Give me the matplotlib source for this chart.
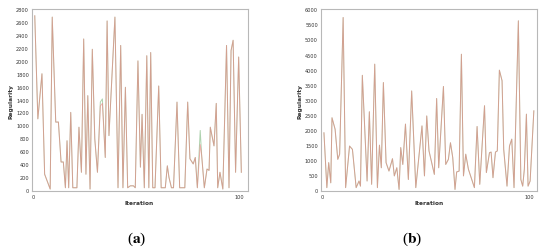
import matplotlib
matplotlib.use("Agg")
import matplotlib.pyplot as plt

# ---- Panel (a) data ----
iter_a = [0.5, 2, 4, 5.3, 8, 9, 10.7, 12, 13.3, 14.4, 15.4, 16.2, 17, 18, 19, 21, 22, 23.2,
          24.3, 25.4, 26.3, 27.4, 28.5, 29.7, 31, 32.4, 33.4, 34.8, 35.7, 36.6, 39.5, 41,
          42.3, 43.4, 44.6, 45.7, 47, 48.5, 49.4, 50.7, 51.9, 52.7, 53.8, 55, 56, 56.9,
          57.9, 59, 60.8, 62, 64, 65, 65.8, 67, 68, 69.7, 71, 73.5, 74.9, 76, 77.6, 78.6,
          79.6, 81, 81.7, 83, 84.3, 85.3, 85.9, 87.7, 88.8, 89.5, 90.6, 92, 93.8, 95, 96,
          97, 98.2, 99.7, 101]
red_a = [2700, 1100, 1800, 240, 10, 2680, 1050, 1050, 430, 430, 30, 760, 30, 1200, 30, 30,
         970, 270, 2340, 240, 1460, 10, 2180, 790, 270, 1300, 1340, 500, 2620, 840, 2680, 30,
         2240, 30, 1590, 30, 60, 60, 30, 2000, 350, 1170, 30, 2080, 30, 2130, 30, 30, 1610,
         30, 30, 370, 190, 30, 30, 1360, 30, 30, 1360, 480, 400, 500, 30, 700, 530, 30, 320,
         300, 970, 680, 1340, 30, 270, 10, 2240, 30, 2160, 2320, 270, 2060, 270]
green_a = [2700, 1100, 1800, 240, 10, 2680, 1050, 1050, 430, 430, 30, 760, 30, 1200, 30, 30,
           970, 270, 2340, 240, 1460, 10, 2180, 790, 270, 1360, 1410, 500, 2620, 840, 2680, 30,
           2240, 30, 1590, 30, 60, 60, 30, 2000, 350, 1170, 30, 2080, 30, 2130, 30, 30, 1610,
           30, 30, 370, 190, 30, 30, 1360, 30, 30, 1360, 480, 400, 500, 30, 920, 530, 30, 320,
           300, 970, 680, 1340, 30, 270, 10, 2240, 30, 2160, 2320, 270, 2060, 270]

# ---- Panel (b) data ----
iter_b = [0.6, 2, 2.9, 3.9, 4.5, 6, 7.3, 8.2, 9.9, 11.1, 13, 14.4, 16.2, 17.6, 18.3, 19.2,
          21.5, 22.6, 23.7, 25.2, 26.5, 27.5, 28.4, 29.4, 30.7, 32.1, 33.8, 34.7, 35.9, 37,
          37.8, 38.8, 40.1, 41.5, 43.1, 45.1, 48.1, 49.3, 50.4, 51.5, 54.1, 55.2, 56.2, 58.5,
          59.6, 60.9, 61.9, 63, 64.1, 64.9, 66.1, 67.2, 68.2, 69.3, 70.6, 73.5, 74.8, 76.1,
          78.4, 79.3, 80.8, 81.6, 82.5, 83.7, 84.6, 85.6, 86.9, 87.7, 89.3, 90.5, 91.6, 92.7,
          94.8, 96, 96.9, 97.7, 98.7, 99.5, 100.5, 102.3]
red_b = [1900, 80, 910, 240, 2400, 2020, 1020, 1190, 5730, 80, 1460, 1350, 80, 300, 130,
         3810, 300, 2600, 190, 4180, 80, 1490, 740, 3570, 910, 630, 1040, 470, 740, 20, 1410,
         850, 2190, 350, 3290, 80, 2130, 470, 2460, 1300, 520, 3040, 740, 3440, 850, 1020,
         1570, 1080, 20, 600, 630, 4510, 470, 1190, 690, 80, 2110, 190, 2800, 580, 1240, 1260,
         410, 1260, 1300, 3980, 3630, 1350, 130, 1460, 1690, 80, 5620, 350, 130, 690, 2520,
         130, 300, 2630]
green_b = list(red_b)

# ---- styling ----
RED = "#f07878"
GREEN = "#78b478"
FRAME = "#b8b8b8"

fig = plt.figure(figsize=(5.5, 2.53), dpi=100)
fig.patch.set_facecolor("white")

def style(ax, xs, g, r, ymax, ystep, ymin):
    ax.plot(xs, g, color=GREEN, lw=0.7, alpha=0.6)
    ax.plot(xs, r, color=RED, lw=0.7, alpha=0.55)
    ax.set_xlim(-1, 104)
    ax.set_ylim(ymin, ymax)
    ax.set_xticks([0, 100])
    ax.set_yticks(list(range(0, ymax + 1, ystep)))
    ax.tick_params(length=0, labelsize=3.6, pad=2, colors="#333333")
    for s in ax.spines.values():
        s.set_color(FRAME)
        s.set_linewidth(0.8)
    ax.set_xlabel("Iteration", fontsize=4.2, fontweight="bold", labelpad=1, color="#333333")
    ax.set_ylabel("Regularity", fontsize=4.2, fontweight="bold", labelpad=2, color="#333333")

ax1 = fig.add_axes([0.0576, 0.241, 0.3924, 0.718])
style(ax1, iter_a, green_a, red_a, 2800, 200, -21)
ax2 = fig.add_axes([0.583, 0.241, 0.394, 0.718])
style(ax2, iter_b, green_b, red_b, 6000, 500, -33)

plt.rcParams["mathtext.fontset"] = "stix"
fig.text(0.249, 0.055, r"($\mathbf{a}$)", ha="center", va="center", fontsize=11,
         family="Liberation Serif")
fig.text(0.749, 0.055, r"($\mathbf{b}$)", ha="center", va="center", fontsize=11,
         family="Liberation Serif")

fig.savefig("out.png", dpi=100)
